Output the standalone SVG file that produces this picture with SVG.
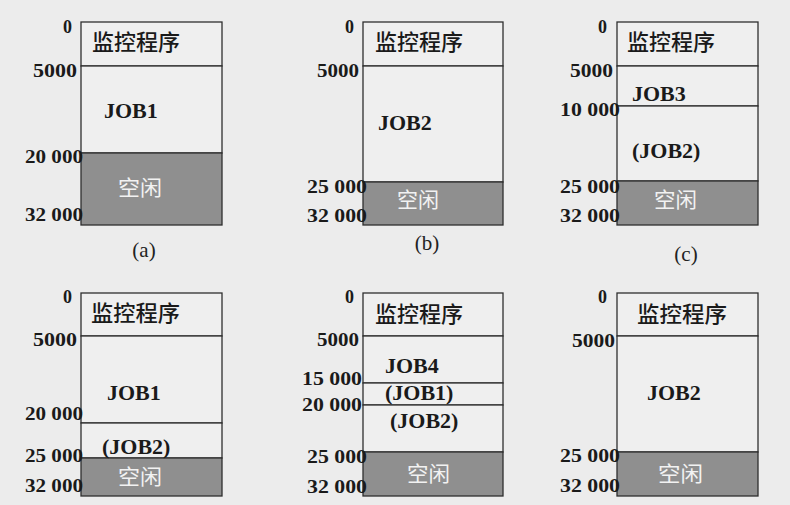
<svg xmlns="http://www.w3.org/2000/svg" width="790" height="505" viewBox="0 0 790 505">
<style>
.bg{fill:#ececec}
.seg{fill:#efefef;stroke:#2e2e2e;stroke-width:1.3}
.free{fill:#8f8f8f;stroke:#2e2e2e;stroke-width:1.3}
.num{font-family:"Liberation Serif",serif;font-weight:bold;font-size:18px;fill:#1a1a1a}
.job{font-family:"Liberation Serif",serif;font-weight:bold;font-size:22px;fill:#1a1a1a}
.mon{font-family:"Noto Sans CJK SC",sans-serif;font-weight:500;font-size:22px;fill:#1a1a1a}
.idle{font-family:"Noto Sans CJK SC",sans-serif;font-size:21px;fill:#f2f2f2}
.cap{font-family:"Liberation Serif",serif;font-size:21px;fill:#222}
</style>
<rect class="bg" x="0" y="0" width="790" height="505"/>

<g id="panel-a">
<rect class="seg" x="81" y="22" width="141" height="44"/>
<rect class="seg" x="81" y="66" width="141" height="87"/>
<rect class="free" x="81" y="153" width="141" height="72"/>
<text class="mon" x="92" y="50" textLength="88" lengthAdjust="spacingAndGlyphs">监控程序</text>
<text class="job" x="104" y="118">JOB1</text>
<text class="idle" x="118" y="195" textLength="44" lengthAdjust="spacingAndGlyphs">空闲</text>
<text class="num" x="63" y="33">0</text>
<text class="num" x="33" y="77" textLength="44" lengthAdjust="spacingAndGlyphs">5000</text>
<text class="num" x="25" y="163" textLength="58" lengthAdjust="spacingAndGlyphs">20 000</text>
<text class="num" x="25" y="221" textLength="58" lengthAdjust="spacingAndGlyphs">32 000</text>
<text class="cap" x="144" y="257" text-anchor="middle">(a)</text>
</g>

<g id="panel-b">
<rect class="seg" x="363" y="22" width="140" height="44"/>
<rect class="seg" x="363" y="66" width="140" height="116"/>
<rect class="free" x="363" y="182" width="140" height="43"/>
<text class="mon" x="375" y="50" textLength="88" lengthAdjust="spacingAndGlyphs">监控程序</text>
<text class="job" x="378" y="130">JOB2</text>
<text class="idle" x="397" y="207" textLength="42" lengthAdjust="spacingAndGlyphs">空闲</text>
<text class="num" x="345" y="33">0</text>
<text class="num" x="317" y="77" textLength="42" lengthAdjust="spacingAndGlyphs">5000</text>
<text class="num" x="307" y="193" textLength="60" lengthAdjust="spacingAndGlyphs">25 000</text>
<text class="num" x="307" y="222" textLength="60" lengthAdjust="spacingAndGlyphs">32 000</text>
<text class="cap" x="427" y="250" text-anchor="middle">(b)</text>
</g>

<g id="panel-c">
<rect class="seg" x="617" y="22" width="141" height="44"/>
<rect class="seg" x="617" y="66" width="141" height="40"/>
<rect class="seg" x="617" y="106" width="141" height="75"/>
<rect class="free" x="617" y="181" width="141" height="44"/>
<text class="mon" x="627" y="50" textLength="88" lengthAdjust="spacingAndGlyphs">监控程序</text>
<text class="job" x="632" y="101">JOB3</text>
<text class="job" x="632" y="158">(JOB2)</text>
<text class="idle" x="654" y="207" textLength="43" lengthAdjust="spacingAndGlyphs">空闲</text>
<text class="num" x="598" y="33">0</text>
<text class="num" x="570" y="77" textLength="43" lengthAdjust="spacingAndGlyphs">5000</text>
<text class="num" x="560" y="116" textLength="60" lengthAdjust="spacingAndGlyphs">10 000</text>
<text class="num" x="560" y="193" textLength="60" lengthAdjust="spacingAndGlyphs">25 000</text>
<text class="num" x="560" y="222" textLength="60" lengthAdjust="spacingAndGlyphs">32 000</text>
<text class="cap" x="686" y="261" text-anchor="middle">(c)</text>
</g>

<g id="panel-d">
<rect class="seg" x="81" y="293" width="141" height="43"/>
<rect class="seg" x="81" y="336" width="141" height="87"/>
<rect class="seg" x="81" y="423" width="141" height="35"/>
<rect class="free" x="81" y="458" width="141" height="38"/>
<text class="mon" x="91" y="321" textLength="89" lengthAdjust="spacingAndGlyphs">监控程序</text>
<text class="job" x="107" y="400">JOB1</text>
<text class="job" x="102" y="454">(JOB2)</text>
<text class="idle" x="118" y="484" textLength="44" lengthAdjust="spacingAndGlyphs">空闲</text>
<text class="num" x="63" y="303">0</text>
<text class="num" x="33" y="346" textLength="44" lengthAdjust="spacingAndGlyphs">5000</text>
<text class="num" x="25" y="420" textLength="58" lengthAdjust="spacingAndGlyphs">20 000</text>
<text class="num" x="25" y="462" textLength="58" lengthAdjust="spacingAndGlyphs">25 000</text>
<text class="num" x="25" y="492" textLength="58" lengthAdjust="spacingAndGlyphs">32 000</text>
</g>

<g id="panel-e">
<rect class="seg" x="363" y="293" width="140" height="43"/>
<rect class="seg" x="363" y="336" width="140" height="47"/>
<rect class="seg" x="363" y="383" width="140" height="22"/>
<rect class="seg" x="363" y="405" width="140" height="47"/>
<rect class="free" x="363" y="452" width="140" height="44"/>
<text class="mon" x="375" y="322" textLength="88" lengthAdjust="spacingAndGlyphs">监控程序</text>
<text class="job" x="385" y="373">JOB4</text>
<text class="job" x="385" y="400">(JOB1)</text>
<text class="job" x="390" y="428">(JOB2)</text>
<text class="idle" x="407" y="481" textLength="43" lengthAdjust="spacingAndGlyphs">空闲</text>
<text class="num" x="345" y="303">0</text>
<text class="num" x="317" y="346" textLength="42" lengthAdjust="spacingAndGlyphs">5000</text>
<text class="num" x="302" y="385" textLength="60" lengthAdjust="spacingAndGlyphs">15 000</text>
<text class="num" x="302" y="411" textLength="60" lengthAdjust="spacingAndGlyphs">20 000</text>
<text class="num" x="307" y="463" textLength="60" lengthAdjust="spacingAndGlyphs">25 000</text>
<text class="num" x="307" y="493" textLength="60" lengthAdjust="spacingAndGlyphs">32 000</text>
</g>

<g id="panel-f">
<rect class="seg" x="617" y="293" width="141" height="43"/>
<rect class="seg" x="617" y="336" width="141" height="116"/>
<rect class="free" x="617" y="452" width="141" height="44"/>
<text class="mon" x="637" y="322" textLength="90" lengthAdjust="spacingAndGlyphs">监控程序</text>
<text class="job" x="647" y="400">JOB2</text>
<text class="idle" x="658" y="481" textLength="45" lengthAdjust="spacingAndGlyphs">空闲</text>
<text class="num" x="598" y="303">0</text>
<text class="num" x="572" y="347" textLength="43" lengthAdjust="spacingAndGlyphs">5000</text>
<text class="num" x="560" y="462" textLength="60" lengthAdjust="spacingAndGlyphs">25 000</text>
<text class="num" x="560" y="492" textLength="60" lengthAdjust="spacingAndGlyphs">32 000</text>
</g>

<g id="connectors"></g>
</svg>
